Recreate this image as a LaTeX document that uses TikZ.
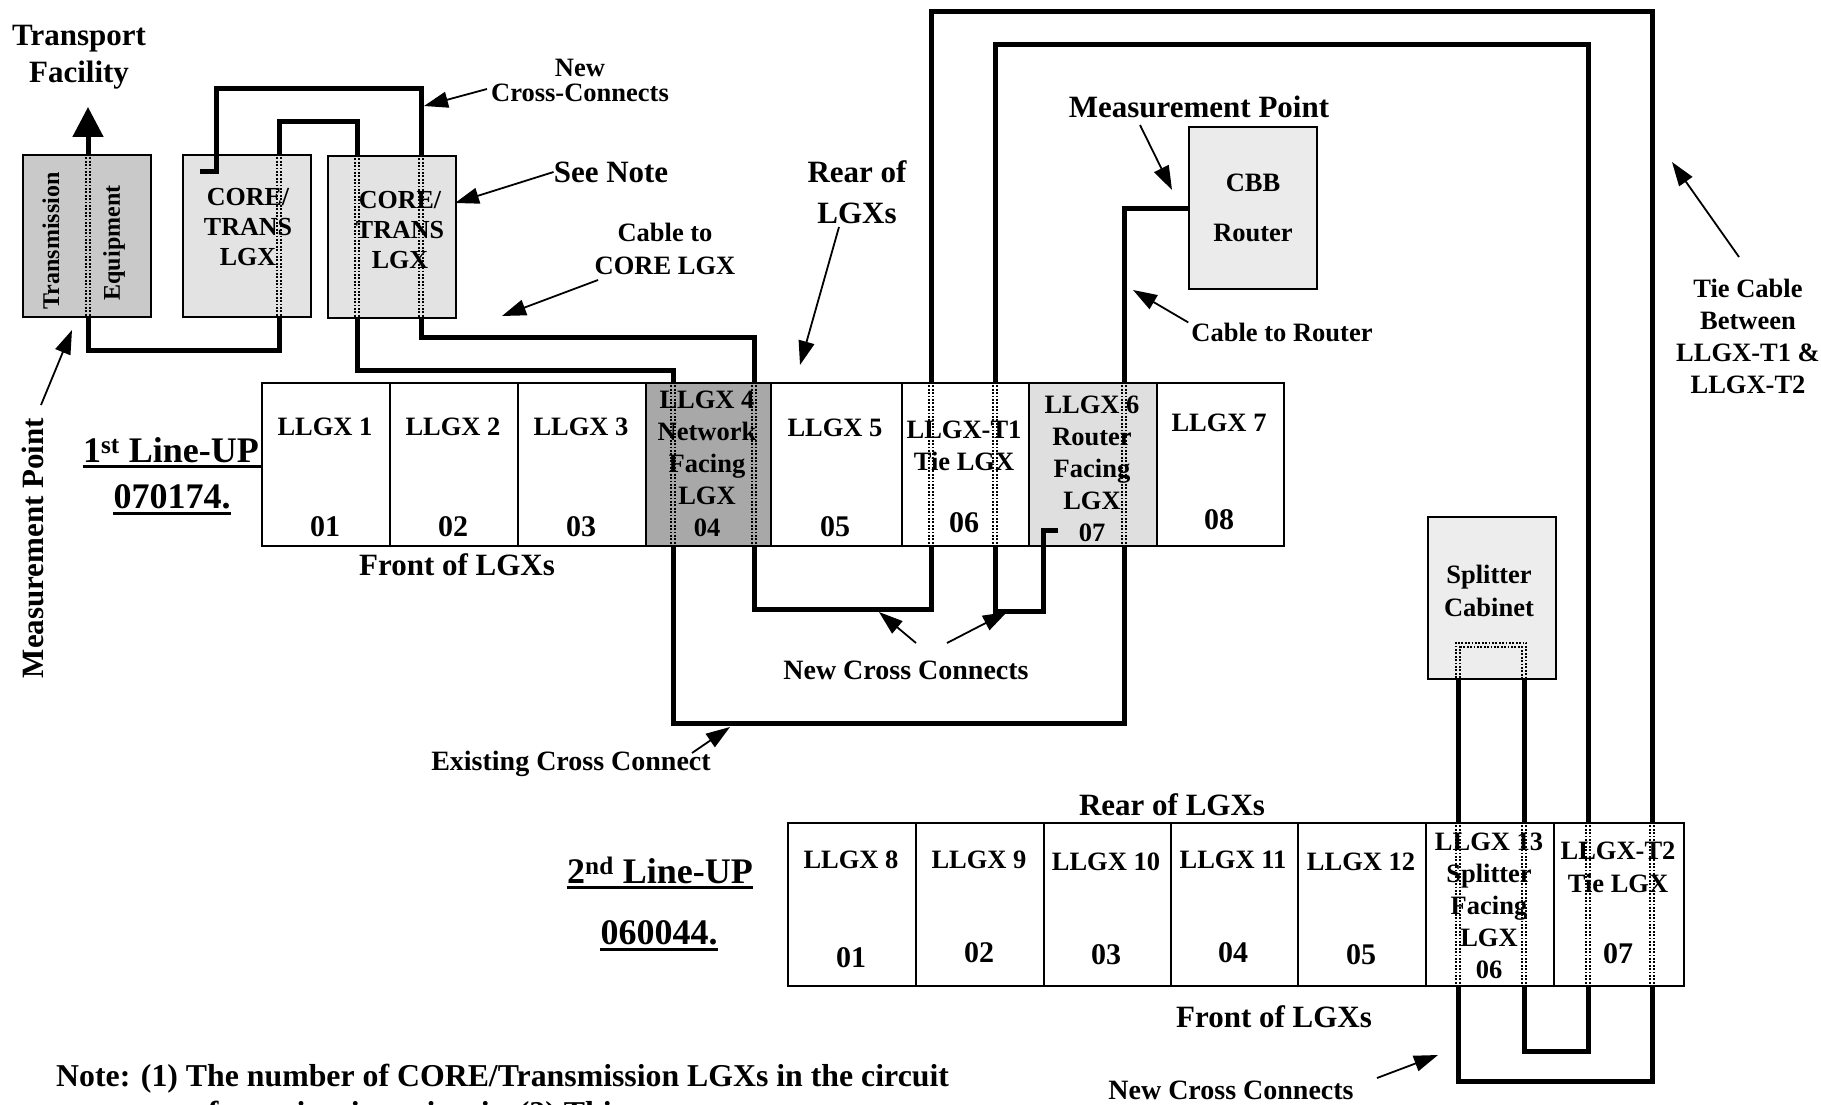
\documentclass[tikz,border=0pt]{standalone}
\usepackage{fontspec}
\setmainfont{Liberation Serif}
\usetikzlibrary{arrows.meta}
\newcommand\SZa{\fontsize{31}{36}\selectfont}
\newcommand\SZb{\fontsize{26.5}{32}\selectfont}
\newcommand\SZc{\fontsize{36}{40}\selectfont}
\newcommand\SZn{\fontsize{30}{32}\selectfont}
\newcommand\SZs{\fontsize{24}{28}\selectfont}
\newcommand\dcol[3]{\foreach \dd in {-2.2,2.2}{\draw[dotl] ({#1+\dd},#2) -- ({#1+\dd},#3);}}
\begin{document}
\begin{tikzpicture}[x=1pt,y=-1pt,font=\bfseries,
  box/.style={draw,line width=2pt,inner sep=0pt,anchor=north west,minimum width=128pt,minimum height=162pt},
  cell/.style={draw,line width=1.6pt,inner sep=0pt,anchor=north west,minimum height=163pt,fill=white},
  cable/.style={line width=5pt},
  dotl/.style={line width=1.8pt,dash pattern=on 1.8pt off 1.6pt},
  arr/.style={line width=1.8pt,-{Triangle[length=24pt,width=16pt]}},
  txt/.style={inner sep=0pt,align=center},
  lab/.style={txt,font=\bfseries\SZb},
  big/.style={txt,font=\bfseries\SZa},
  num/.style={txt,font=\bfseries\SZn},
  uline/.style={line width=3pt},
]
\useasboundingbox (0,0) rectangle (1821,1105);
\fill[white] (0,0) rectangle (1821,1105);
\clip (0,0) rectangle (1821,1105);

% column positions
\coordinate (xTE) at (88,0);
\coordinate (xC1) at (279,0);
\coordinate (xC2a) at (357,0);
\coordinate (xC2b) at (421,0);
\coordinate (x4a) at (673,0);
\coordinate (x4b) at (754,0);
\coordinate (xT1a) at (931,0);
\coordinate (xT1b) at (995,0);
\coordinate (x6) at (1124,0);
\coordinate (xS1) at (1458,0);
\coordinate (xS2) at (1524,0);
\coordinate (xT2a) at (1588,0);
\coordinate (xT2b) at (1652,0);

% top boxes
\node[box,fill=gray!42] (te) at (22,154) {};
\node[box,fill=gray!22] (core1) at (182,154) {};
\node[box,fill=gray!22] (core2) at (327,155) {};
\node[box,fill=gray!16,align=center,font=\bfseries\fontsize{26.5}{50}\selectfont] (cbb) at (1188,126) {CBB\\Router};
\node[box,fill=gray!14] (spl) at (1427,516) {};

% row 1
\node[cell,minimum width=128pt] (a1) at (261,382) {};
\node[cell,minimum width=128pt] (a2) at (389,382) {};
\node[cell,minimum width=128pt] (a3) at (517,382) {};
\node[cell,minimum width=125pt,fill=gray!68] (a4) at (645,382) {};
\node[cell,minimum width=131pt] (a5) at (770,382) {};
\node[cell,minimum width=127pt] (a6) at (901,382) {};
\node[cell,minimum width=128pt,fill=gray!25] (a7) at (1028,382) {};
\node[cell,minimum width=127pt] (a8) at (1156,382) {};

% row 2
\node[cell,minimum width=128pt] (b1) at (787,822) {};
\node[cell,minimum width=128pt] (b2) at (915,822) {};
\node[cell,minimum width=127pt] (b3) at (1043,822) {};
\node[cell,minimum width=127pt] (b4) at (1170,822) {};
\node[cell,minimum width=128pt] (b5) at (1297,822) {};
\node[cell,minimum width=128pt] (b6) at (1425,822) {};
\node[cell,minimum width=130pt] (b7) at (1553,822) {};

% dotted columns
\dcol{88}{154}{316}
\dcol{279}{154}{316}
\dcol{357}{155}{317}
\dcol{421}{155}{317}
\dcol{673}{382}{545}
\dcol{754}{382}{545}
\dcol{931}{382}{545}
\dcol{995}{382}{545}
\dcol{1124}{382}{545}
\dcol{1458}{822}{985}
\dcol{1524}{822}{985}
\dcol{1588}{822}{985}
\dcol{1652}{822}{985}
\draw[dotl] (1455.8,678) -- (1455.8,642.8) -- (1526.2,642.8) -- (1526.2,678);
\draw[dotl] (1460.2,678) -- (1460.2,647.2) -- (1521.8,647.2) -- (1521.8,678);

% box texts
\node[txt,font=\bfseries\SZs,rotate=90] (tet1) at (51,241) {Transmission};
\node[txt,font=\bfseries\SZs,rotate=90] (tet2) at (114,243) {Equipment};
\node[txt,font=\bfseries\fontsize{26}{30}\selectfont] (c1t) at (248,227) {CORE/\\TRANS\\LGX};
\node[txt,font=\bfseries\fontsize{26}{30}\selectfont] (c2t) at (400,230) {CORE/\\TRANS\\LGX};
\node[txt,font=\bfseries\fontsize{26.5}{33}\selectfont] (splt) at (1489,591) {Splitter\\Cabinet};

% row 1 texts
\node[lab] (t1) at (325,427) {LLGX 1};
\node[num] (n1) at (325,527) {01};
\node[lab] (t2) at (453,427) {LLGX 2};
\node[num] (n2) at (453,527) {02};
\node[lab] (t3) at (581,427) {LLGX 3};
\node[num] (n3) at (581,527) {03};
\node[txt,font=\bfseries\fontsize{26.5}{32}\selectfont] (t4) at (707,464) {LLGX 4\\Network\\Facing\\LGX\\04};
\node[lab] (t5) at (835,428) {LLGX 5};
\node[num] (n5) at (835,527) {05};
\node[txt,font=\bfseries\fontsize{26.5}{32}\selectfont] (t6) at (964,446) {LLGX-T1\\Tie LGX};
\node[num] (n6) at (964,523) {06};
\node[txt,font=\bfseries\fontsize{26.5}{32}\selectfont] (t7) at (1092,469) {LLGX 6\\Router\\Facing\\LGX\\07};
\node[lab] (t8) at (1219,423) {LLGX 7};
\node[num] (n8) at (1219,520) {08};

% row 2 texts
\node[lab] (u1) at (851,860) {LLGX 8};
\node[num] (m1) at (851,958) {01};
\node[lab] (u2) at (979,860) {LLGX 9};
\node[num] (m2) at (979,953) {02};
\node[lab] (u3) at (1106,862) {LLGX 10};
\node[num] (m3) at (1106,955) {03};
\node[lab] (u4) at (1233,860) {LLGX 11};
\node[num] (m4) at (1233,953) {04};
\node[lab] (u5) at (1361,862) {LLGX 12};
\node[num] (m5) at (1361,955) {05};
\node[txt,font=\bfseries\fontsize{26.5}{32}\selectfont] (u6) at (1489,906) {LLGX 13\\Splitter\\Facing\\LGX\\06};
\node[txt,font=\bfseries\fontsize{26.5}{33}\selectfont] (u7) at (1618,867) {LLGX-T2\\Tie LGX};
\node[num] (m7) at (1618,954) {07};

% cables
\coordinate (tfa) at (88,107);
\draw[cable,-{Triangle[length=30pt,width=30pt]}] (te.north -| xTE) -- (tfa);
\draw[cable] (te.south -| xTE) -- ++(0,32) -| (core1.south -| xC1);
\coordinate (hk1) at (200,172);
\draw[cable] (hk1) -| (216,89) -| (core2.north -| xC2b);
\draw[cable] (core1.north -| xC1) -- ++(0,-32) -| (core2.north -| xC2a);
\draw[cable] (core2.south -| xC2a) -- ++(0,51) -| (a4.north -| x4a);
\draw[cable] (core2.south -| xC2b) -- ++(0,18) -| (a4.north -| x4b);
\draw[cable] (a4.south -| x4a) -- ++(0,177) -| (a7.south -| x6);
\draw[cable] (a4.south -| x4b) -- ++(0,63) -| (a6.south -| xT1a);
\coordinate (hk2) at (1058,530);
\draw[cable] (a6.south -| xT1b) -- ++(0,65) -| (1043,530) -- (hk2);
\draw[cable] (cbb.west) -| (a7.north -| x6);
\draw[cable] (a6.north -| xT1a) -- ++(0,-370) -| (b7.north -| xT2b);
\draw[cable] (a6.north -| xT1b) -- ++(0,-337) -| (b7.north -| xT2a);
\draw[cable] (spl.south -| xS1) -- (b6.north -| xS1);
\draw[cable] (spl.south -| xS2) -- (b6.north -| xS2);
\draw[cable] (b6.south -| xS1) -- ++(0,95) -| (b7.south -| xT2b);
\draw[cable] (b6.south -| xS2) -- ++(0,65) -| (b7.south -| xT2a);

% labels
\node[txt,font=\bfseries\fontsize{31}{37}\selectfont] (tf) at (79,57) {Transport\\Facility};
\node[txt,font=\bfseries\fontsize{26.5}{25}\selectfont] (ncc) at (580,80) {New\\Cross-Connects};
\node[big] (seenote) at (611,172) {See Note};
\node[txt,font=\bfseries\fontsize{26.5}{33}\selectfont] (c2c) at (665,249) {Cable to\\CORE LGX};
\node[txt,font=\bfseries\fontsize{31}{41}\selectfont] (rear1) at (857,192) {Rear of\\LGXs};
\node[big] (mp1) at (1199,107) {Measurement Point};
\node[lab] (c2r) at (1282,332) {Cable to Router};
\node[txt,font=\bfseries\fontsize{26.5}{32}\selectfont] (tiec) at (1748,336) {Tie Cable\\Between\\LLGX-T1 \&\\LLGX-T2};
\node[txt,font=\bfseries\SZc] (lu1) at (171,450) {1\textsuperscript{st} Line-UP};
\node[txt,font=\bfseries\SZc] (lu1n) at (172,497) {070174.};
\node[big] (front1) at (457,565) {Front of LGXs};
\node[txt,font=\bfseries\fontsize{28}{32}\selectfont] (ncc2) at (906,670) {New Cross Connects};
\node[txt,font=\bfseries\fontsize{28}{32}\selectfont] (exc) at (571,764) {Existing Cross Connect};
\node[big] (rear2) at (1172,805) {Rear of LGXs};
\node[txt,font=\bfseries\SZc] (lu2) at (660,870) {2\textsuperscript{nd} Line-UP};
\node[txt,font=\bfseries\SZc] (lu2n) at (659,933) {060044.};
\node[big] (front2) at (1274,1017) {Front of LGXs};
\node[txt,font=\bfseries\fontsize{28}{32}\selectfont] (ncc3) at (1231,1090) {New Cross Connects};
\node[big,rotate=90] (mp2) at (33,548) {Measurement Point};
\node[txt,anchor=base west,font=\bfseries\fontsize{31.8}{34}\selectfont] (note1) at (56,1086) {Note: (1) The number of CORE/Transmission LGXs in the circuit};
\node[txt,anchor=base west,font=\bfseries\fontsize{31.8}{34}\selectfont] (note2) at (138,1123) {vary from circuit to circuit. (2) This};

% underlines
\draw[uline] ([yshift=-4pt]lu1.south west) -- ([yshift=-4pt]lu1.south west -| a1.west);
\draw[uline] ([yshift=-4pt]lu1n.south west) -- ([yshift=-4pt]lu1n.south east);
\draw[uline] ([yshift=-4pt]lu2.south west) -- ([yshift=-4pt]lu2.south east);
\draw[uline] ([yshift=-4pt]lu2n.south west) -- ([yshift=-4pt]lu2n.south east);

% arrows
\coordinate (s1) at (487,89);   \coordinate (p1) at (424,106);
\coordinate (p2) at (455,203);
\coordinate (s3) at (598,280);  \coordinate (p3) at (502,316);
\coordinate (s4) at (839,227);  \coordinate (p4) at (800,365);
\coordinate (s5) at (1140,125); \coordinate (p5) at (1172,190);
\coordinate (p6) at (1133,290);
\coordinate (s7) at (1739,257); \coordinate (p7) at (1672,162);
\coordinate (s8) at (916,643);  \coordinate (p8) at (879,612);
\coordinate (s9) at (947,643);  \coordinate (p9) at (1007,612);
\coordinate (s10) at (692,753); \coordinate (p10) at (730,727);
\coordinate (s11) at (41,405);  \coordinate (p11) at (72,330);
\coordinate (s12) at (1377,1078); \coordinate (p12) at (1438,1055);
\draw[arr] (s1) -- (p1);
\draw[arr] (seenote.west) -- (p2);
\draw[arr] (s3) -- (p3);
\draw[arr] (s4) -- (p4);
\draw[arr] (s5) -- (p5);
\draw[arr] ([xshift=-3pt]c2r.north west) -- (p6);
\draw[arr] (s7) -- (p7);
\draw[arr] (s8) -- (p8);
\draw[arr] (s9) -- (p9);
\draw[arr] (s10) -- (p10);
\draw[arr] (s11) -- (p11);
\draw[arr] (s12) -- (p12);
\end{tikzpicture}
\end{document}
